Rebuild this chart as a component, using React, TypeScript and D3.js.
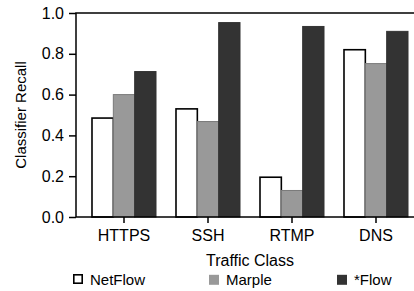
import React, { useEffect, useRef } from "react";
import * as d3 from "d3";

const categories = ["HTTPS", "SSH", "RTMP", "DNS"];
const seriesNames = ["NetFlow", "Marple", "*Flow"];
const netflow = [0.485, 0.53, 0.195, 0.82];
const marple = [0.6, 0.468, 0.13, 0.752];
const starflow = [0.713, 0.953, 0.934, 0.91];
const yTicks = [0, 0.2, 0.4, 0.6, 0.8, 1.0];

const fills = ["#ffffff", "#999999", "#333333"];
const strokes = ["#000000", "#7a7a7a", "#333333"];
const strokeWidths = [1.6, 1, 1];

const WIDTH = 414;
const HEIGHT = 291;
const FONT = "'Liberation Sans', Arial, Helvetica, sans-serif";

export default function App() {
  const ref = useRef<SVGSVGElement | null>(null);

  useEffect(() => {
    const svg = d3.select(ref.current);
    svg.selectAll("*").remove();

    const margin = { top: 13, left: 76, right: -10, bottom: 74 };
    const plotRight = WIDTH - margin.right;
    const plotBottom = HEIGHT - margin.bottom;

    const x = d3.scaleBand<string>()
      .domain(categories)
      .range([margin.left + 6, plotRight - 6])
      .paddingInner(0.238)
      .paddingOuter(0.119);

    const xInner = d3.scaleBand<number>()
      .domain([0, 1, 2])
      .range([0, x.bandwidth()]);

    const y = d3.scaleLinear()
      .domain([0, 1])
      .range([plotBottom, margin.top]);

    const series = [netflow, marple, starflow];

    // bars
    series.forEach((values, si) => {
      svg.append("g")
        .selectAll("rect")
        .data(values)
        .join("rect")
        .attr("x", (_, i) => (x(categories[i]) as number) + (xInner(si) as number))
        .attr("y", d => y(d))
        .attr("width", xInner.bandwidth())
        .attr("height", d => y(0) - y(d))
        .attr("fill", fills[si])
        .attr("stroke", strokes[si])
        .attr("stroke-width", strokeWidths[si]);
    });

    // frame
    svg.append("rect")
      .attr("x", margin.left)
      .attr("y", margin.top)
      .attr("width", plotRight - margin.left)
      .attr("height", plotBottom - margin.top)
      .attr("fill", "none")
      .attr("stroke", "#000")
      .attr("stroke-width", 1.5);

    // y axis
    const yAxis = svg.append("g")
      .attr("transform", "translate(" + margin.left + ",0)")
      .call(d3.axisLeft(y).tickValues(yTicks).tickFormat(d3.format(".1f")).tickSize(7).tickPadding(5));
    yAxis.select(".domain").remove();
    yAxis.selectAll("line").attr("stroke-width", 1.5);
    yAxis.selectAll("text").attr("font-size", 16).attr("font-family", FONT).attr("fill", "#000");

    // x axis
    const xAxis = svg.append("g")
      .attr("transform", "translate(0," + plotBottom + ")")
      .call(d3.axisBottom(x).tickSize(6).tickPadding(7));
    xAxis.select(".domain").remove();
    xAxis.selectAll("line").attr("stroke-width", 1.5);
    xAxis.selectAll("text").attr("font-size", 16).attr("font-family", FONT).attr("fill", "#000");

    // axis titles
    svg.append("text")
      .attr("transform", "translate(26," + (margin.top + plotBottom) / 2 + ") rotate(-90)")
      .attr("text-anchor", "middle")
      .attr("font-size", 15)
      .attr("font-family", FONT)
      .text("Classifier Recall");

    svg.append("text")
      .attr("x", (margin.left + plotRight) / 2)
      .attr("y", 266)
      .attr("text-anchor", "middle")
      .attr("font-size", 16)
      .attr("font-family", FONT)
      .text("Traffic Class");

    // legend
    const legendX = [73, 209, 337];
    const legend = svg.append("g")
      .selectAll("g")
      .data(seriesNames)
      .join("g")
      .attr("transform", (_, i) => "translate(" + legendX[i] + ",274)");
    legend.append("rect")
      .attr("x", (_, i) => (i === 0 ? 0.8 : 0))
      .attr("y", 0.8)
      .attr("width", (_, i) => (i === 0 ? 8.4 : 10))
      .attr("height", (_, i) => (i === 0 ? 8.4 : 10))
      .attr("fill", (_, i) => fills[i])
      .attr("stroke", (_, i) => (i === 0 ? "#000" : "none"))
      .attr("stroke-width", 1.6);
    legend.append("text")
      .attr("x", 17)
      .attr("y", 10.5)
      .attr("font-size", 15)
      .attr("font-family", FONT)
      .text(d => d);
  }, []);

  return (
    <svg
      ref={ref}
      width={WIDTH}
      height={HEIGHT}
      style={{ position: "absolute", left: 0, top: 0, overflow: "hidden", background: "#fff" }}
    />
  );
}
